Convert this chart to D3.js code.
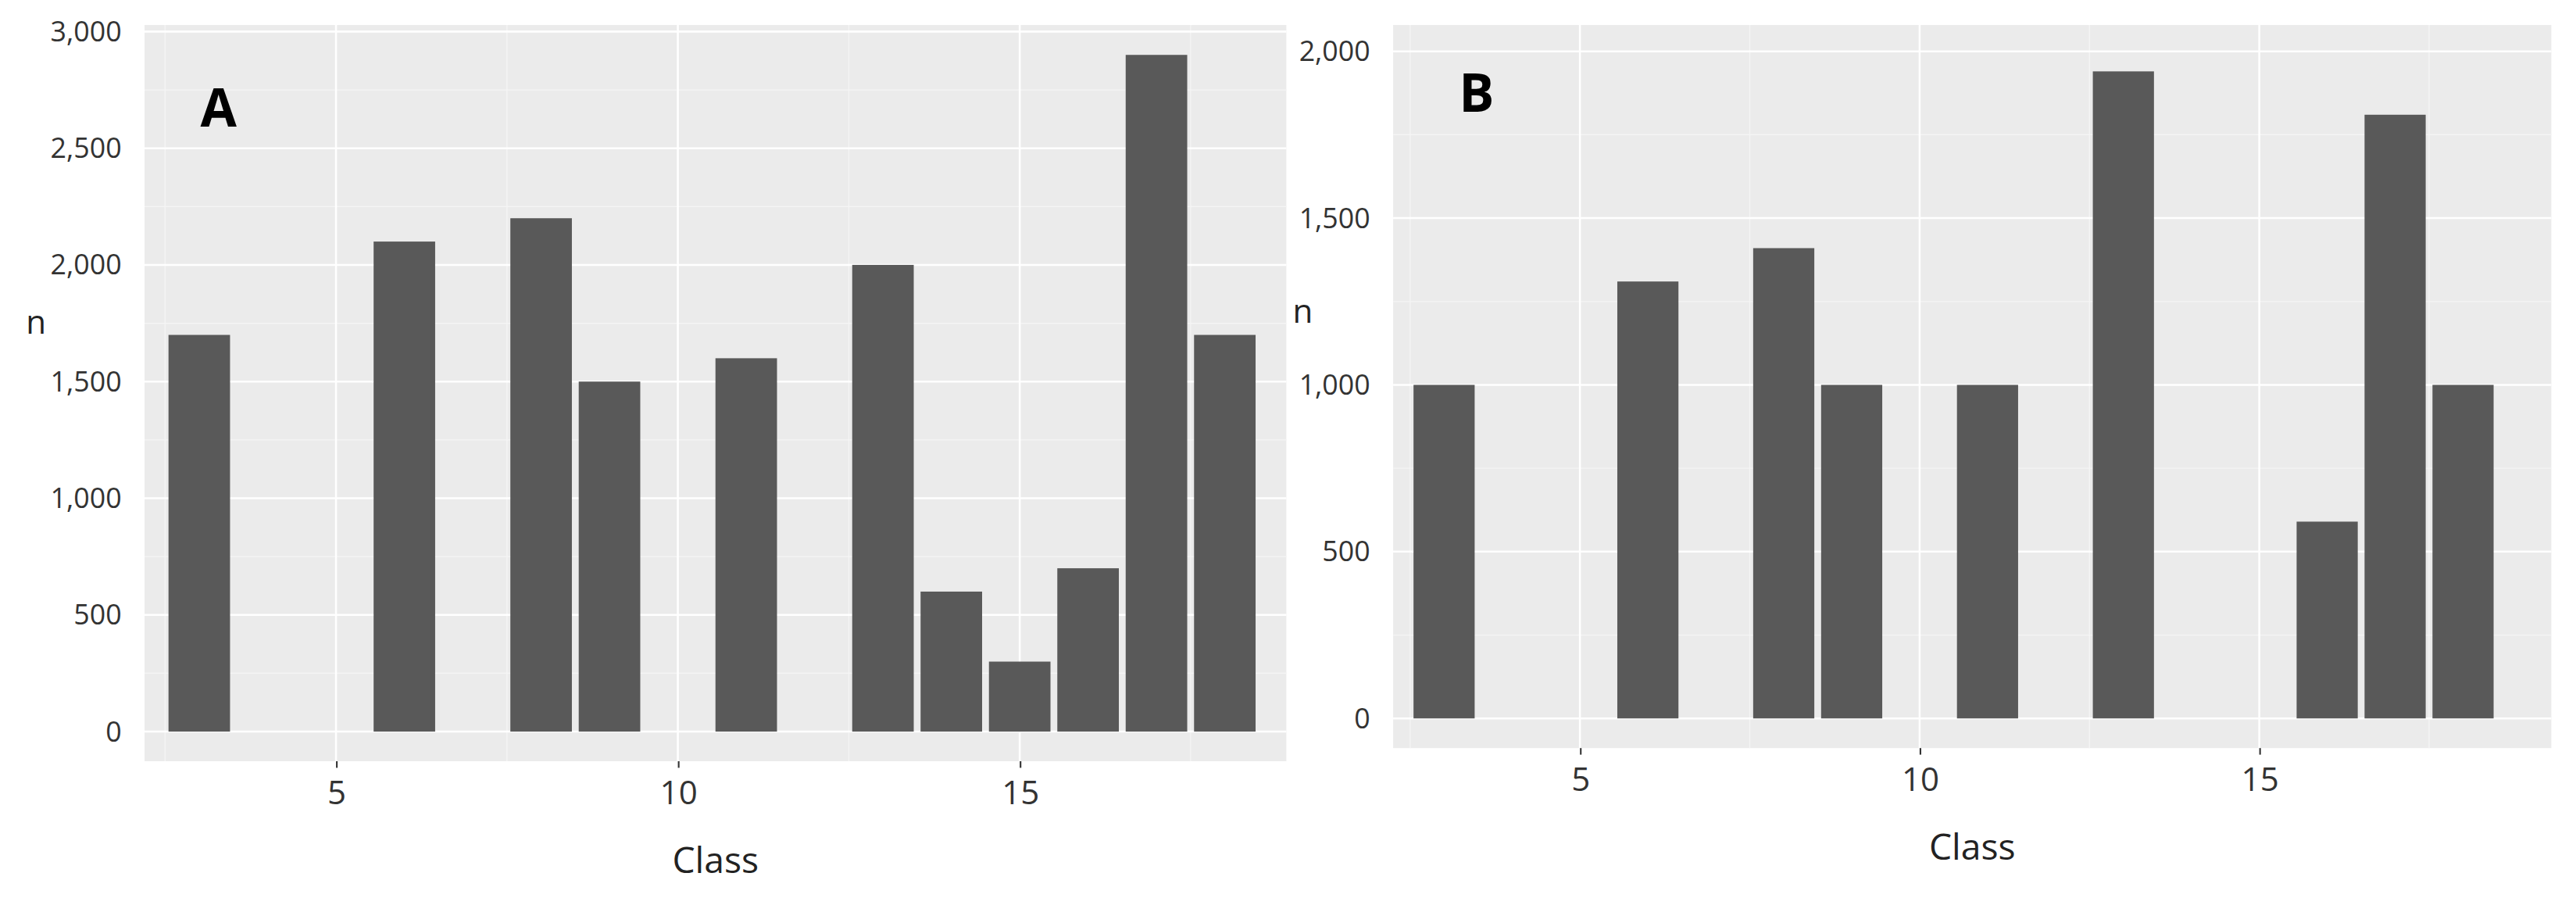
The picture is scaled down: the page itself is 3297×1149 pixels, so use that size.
<!DOCTYPE html>
<html><head><meta charset="utf-8">
<script src="https://cdn.jsdelivr.net/npm/d3@7"></script>
<style>body{margin:0;background:#fff}text{font-family:"Open Sans",sans-serif}</style>
</head><body>
<svg id="chart" width="3297" height="1149" viewBox="0 0 1568 546"></svg>
<script>
// panel A data
const classesA = [3, 6, 8, 9, 11, 13, 14, 15, 16, 17, 18]
const countsA = [1700, 2100, 2200, 1500, 1600, 2000, 600, 300, 700, 2900, 1700]
const yTicksA = [0, 500, 1000, 1500, 2000, 2500, 3000]
// panel B data
const classesB = [3, 6, 8, 9, 11, 13, 16, 17, 18]
const countsB = [1000, 1310, 1410, 1000, 1000, 1940, 590, 1810, 1000]
const yTicksB = [0, 500, 1000, 1500, 2000]
const xTicks = [5, 10, 15]

const svg = d3.select('#chart')

const panel = ({label, classes, counts, yTicks, left, right, top, bottom, xDom, yDom, labelPos, nPos}) => {
  const x = d3.scaleLinear().domain(xDom).range([left, right])
  const y = d3.scaleLinear().domain(yDom).range([bottom, top])
  const g = svg.append('g')
  g.append('rect').attr('x', left).attr('y', top).attr('width', right - left).attr('height', bottom - top).attr('fill', '#ebebeb')

  // minor grid
  const minorX = [2.5, 7.5, 12.5, 17.5].filter(v => v > xDom[0] && v < xDom[1])
  const minorY = yTicks.slice(1).map(v => v - (yTicks[1] - yTicks[0]) / 2).concat([yTicks[yTicks.length - 1] + (yTicks[1] - yTicks[0]) / 2]).filter(v => v < yDom[1])
  g.selectAll('.mx').data(minorX).join('line')
    .attr('x1', d => x(d)).attr('x2', d => x(d)).attr('y1', top).attr('y2', bottom)
    .attr('stroke', '#f5f5f5').attr('stroke-width', 0.6)
  g.selectAll('.my').data(minorY).join('line')
    .attr('y1', d => y(d)).attr('y2', d => y(d)).attr('x1', left).attr('x2', right)
    .attr('stroke', '#f5f5f5').attr('stroke-width', 0.6)
  // major grid
  g.selectAll('.gx').data(xTicks).join('line')
    .attr('x1', d => x(d)).attr('x2', d => x(d)).attr('y1', top).attr('y2', bottom)
    .attr('stroke', '#fff').attr('stroke-width', 1.2)
  g.selectAll('.gy').data(yTicks).join('line')
    .attr('y1', d => y(d)).attr('y2', d => y(d)).attr('x1', left).attr('x2', right)
    .attr('stroke', '#fff').attr('stroke-width', 1.2)

  // bars
  g.selectAll('.bar').data(classes).join('rect')
    .attr('x', d => x(d - 0.45)).attr('width', x(0.9) - x(0))
    .attr('y', (d, i) => y(counts[i])).attr('height', (d, i) => y(0) - y(counts[i]))
    .attr('fill', '#595959')

  // axes
  const xa = g.append('g').attr('transform', `translate(0,${bottom})`)
    .call(d3.axisBottom(x).tickValues(xTicks).tickSize(4).tickPadding(8))
  xa.select('.domain').remove()
  xa.selectAll('line').attr('stroke', '#333')
  xa.selectAll('text').attr('font-size', 20).attr('fill', '#333')
  const ya = g.append('g').attr('transform', `translate(${left},0)`)
    .call(d3.axisLeft(y).tickValues(yTicks).tickSize(0).tickPadding(14))
  ya.select('.domain').remove()
  ya.selectAll('text').attr('font-size', 17).attr('fill', '#333')

  g.append('text').attr('x', (left + right) / 2).attr('y', bottom + 68).attr('text-anchor', 'middle')
    .attr('font-size', 22).attr('fill', '#222').text('Class')
  g.append('text').attr('x', nPos[0]).attr('y', nPos[1]).attr('text-anchor', 'middle')
    .attr('font-size', 20).attr('fill', '#222').text('n')
  g.append('text').attr('x', labelPos[0]).attr('y', labelPos[1])
    .attr('font-size', 32).attr('font-weight', 'bold').attr('fill', '#000').text(label)
}

panel({label: 'A', classes: classesA, counts: countsA, yTicks: yTicksA,
  left: 88, right: 783, top: 15, bottom: 463, xDom: [2.2, 18.9], yDom: [-127, 3028],
  labelPos: [122, 77], nPos: [22, 203]})
panel({label: 'B', classes: classesB, counts: countsB, yTicks: yTicksB,
  left: 848, right: 1553, top: 15, bottom: 455, xDom: [2.25, 19.3], yDom: [-89, 2079],
  labelPos: [888, 68], nPos: [793, 196]})
</script>
</body></html>
